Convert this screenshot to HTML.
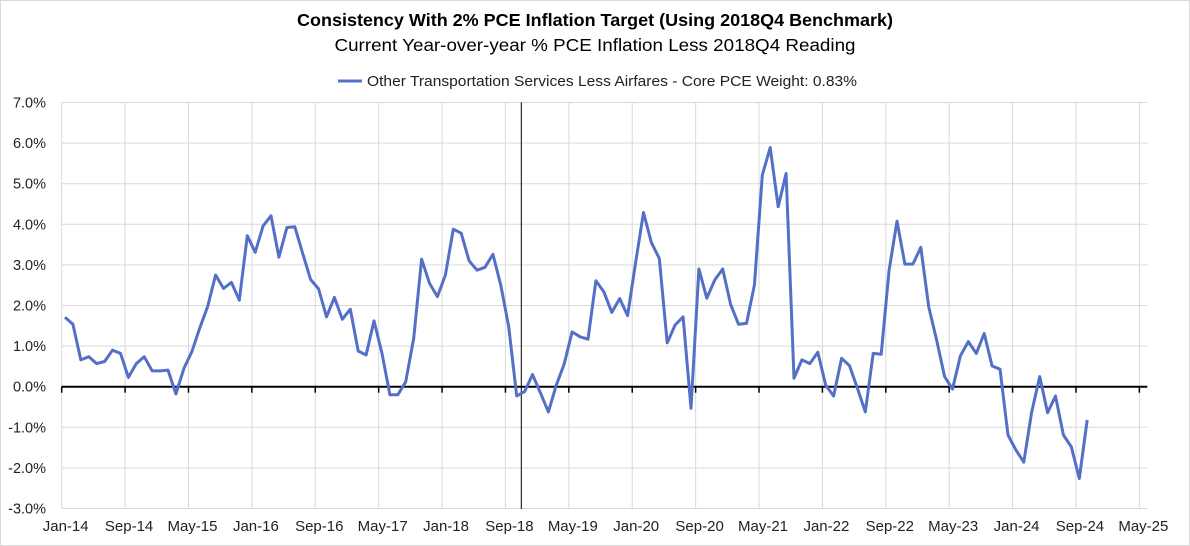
<!DOCTYPE html>
<html><head><meta charset="utf-8"><style>
body{margin:0;background:#fff;font-family:"Liberation Sans",sans-serif;}
svg{display:block}
</style></head><body>
<svg id="chart" width="1190" height="546" xmlns="http://www.w3.org/2000/svg">
<rect x="0.5" y="0.5" width="1189" height="545" fill="#fff" stroke="#d9d9d9"/>
<text x="595" y="26" text-anchor="middle" font-size="17.5" font-weight="bold" fill="#000" textLength="596" lengthAdjust="spacingAndGlyphs">Consistency With 2% PCE Inflation Target (Using 2018Q4 Benchmark)</text>
<text x="595" y="51" text-anchor="middle" font-size="17.5" fill="#000" textLength="521" lengthAdjust="spacingAndGlyphs">Current Year-over-year % PCE Inflation Less 2018Q4 Reading</text>
<g>
<line x1="338" y1="81" x2="362" y2="81" stroke="#5470c6" stroke-width="3"/>
<text x="367" y="86" font-size="14.5" fill="#222" textLength="490" lengthAdjust="spacingAndGlyphs">Other Transportation Services Less Airfares - Core PCE Weight: 0.83%</text>
</g>
<g id="grid"></g><g id="axes"></g><g id="series"></g>
</svg>
<script>
const values=[1.71,1.54,0.66,0.74,0.57,0.62,0.90,0.82,0.23,0.57,0.74,0.39,0.39,0.41,-0.18,0.45,0.86,1.44,1.97,2.75,2.42,2.57,2.13,3.72,3.31,3.96,4.21,3.19,3.92,3.94,3.28,2.64,2.41,1.72,2.20,1.66,1.91,0.88,0.78,1.62,0.82,-0.20,-0.20,0.12,1.19,3.14,2.55,2.22,2.75,3.88,3.78,3.10,2.87,2.94,3.26,2.50,1.48,-0.23,-0.12,0.30,-0.15,-0.62,0.04,0.56,1.35,1.23,1.17,2.61,2.34,1.83,2.17,1.75,3.04,4.29,3.55,3.16,1.08,1.52,1.72,-0.53,2.90,2.18,2.63,2.90,2.03,1.54,1.56,2.50,5.21,5.89,4.43,5.25,0.21,0.66,0.57,0.85,0.04,-0.23,0.70,0.52,-0.04,-0.62,0.82,0.80,2.87,4.08,3.02,3.02,3.43,1.97,1.15,0.25,-0.06,0.76,1.11,0.82,1.31,0.51,0.43,-1.19,-1.56,-1.86,-0.62,0.25,-0.64,-0.23,-1.19,-1.48,-2.26,-0.82];
const yTicks=[7,6,5,4,3,2,1,0,-1,-2,-3];
const xTickLabels=["Jan-14","Sep-14","May-15","Jan-16","Sep-16","May-17","Jan-18","Sep-18","May-19","Jan-20","Sep-20","May-21","Jan-22","Sep-22","May-23","Jan-24","Sep-24","May-25"];
const xTickMonths=[0,8,16,24,32,40,48,56,64,72,80,88,96,104,112,120,128,136];
const benchmarkMonth=58;
const NS="http://www.w3.org/2000/svg";
const X0=61.7,XPM=7.924,LEFT=61.7,RIGHT=1147.3,TOP=102.3,BOT=509;
const xm=m=>X0+m*XPM;
const xp=i=>xm(i)+3.3;
const y=v=>386.7-(v)*40.6;
function mk(tag,attrs,parent){const e=document.createElementNS(NS,tag);for(const k in attrs)e.setAttribute(k,attrs[k]);parent.appendChild(e);return e;}
const grid=document.getElementById('grid'),axes=document.getElementById('axes'),ser=document.getElementById('series');
yTicks.forEach(t=>{
 const l=mk('line',{x1:LEFT,x2:RIGHT,y1:y(t),y2:y(t),stroke:'#d9d9d9','stroke-width':1},grid);
 
 
 const tx=mk('text',{x:46,y:y(t)+5,'text-anchor':'end','font-size':14.5,fill:'#222'},axes);
 tx.textContent=t.toFixed(1)+'%';
 
 
});
xTickMonths.forEach((m,i)=>{
 const l=mk('line',{x1:xm(m),x2:xm(m),y1:TOP,y2:BOT,stroke:'#d9d9d9','stroke-width':1},grid);
 
 
 const tk=mk('line',{x1:xm(m),x2:xm(m),y1:y(0),y2:y(0)+6,stroke:'#000','stroke-width':1.5},axes);
 
 
 const tx=mk('text',{x:Math.min(xm(m)+4,1157),y:531,'text-anchor':'middle','font-size':15,fill:'#222'},axes);
 tx.textContent=xTickLabels[i];
 
 
});
const za=mk('line',{x1:LEFT,x2:RIGHT,y1:y(0),y2:y(0),stroke:'#000','stroke-width':2},axes);


const bl=mk('line',{x1:xm(benchmarkMonth),x2:xm(benchmarkMonth),y1:TOP,y2:BOT,stroke:'#000','stroke-width':1},axes);


const pl=mk('polyline',{points:values.map((v,i)=>xp(i).toFixed(1)+','+y(v).toFixed(1)).join(' '),fill:'none',stroke:'#5470c6','stroke-width':3,'stroke-linejoin':'round'},ser);


</script>
</body></html>
